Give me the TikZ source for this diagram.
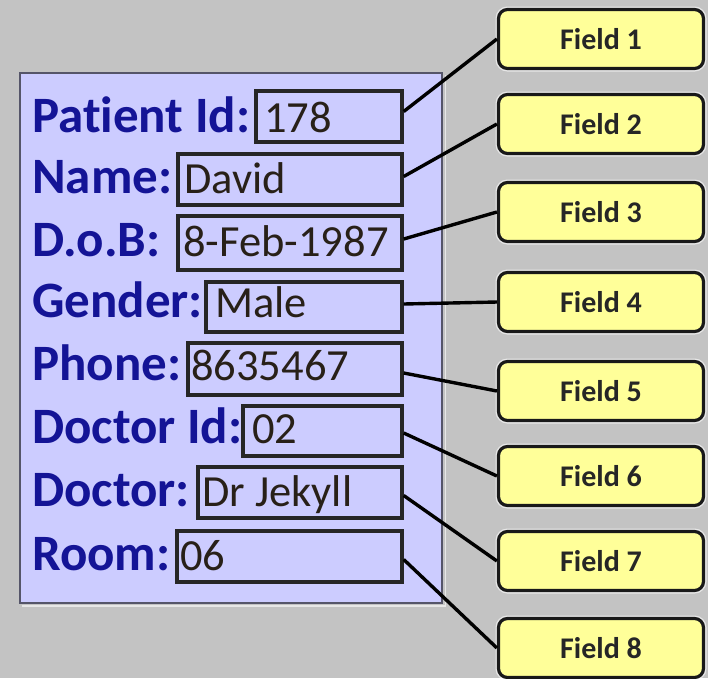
\documentclass[tikz,border=0pt]{standalone}
\usepackage{fontspec}
\setmainfont{Carlito}[Ligatures=CommonOff]
\usetikzlibrary{fit}
\definecolor{bggray}{RGB}{195,195,195}
\definecolor{panelfill}{RGB}{204,204,255}
\definecolor{panelline}{RGB}{85,85,105}
\definecolor{labelblue}{RGB}{20,20,150}
\definecolor{valtext}{RGB}{40,32,24}
\definecolor{fieldfill}{RGB}{255,255,153}
\tikzset{
  panel/.style={draw=panelline, line width=2pt, fill=panelfill, inner sep=0pt},
  vbox/.style={draw=black!85, line width=3.4pt, inner sep=0pt},
  lbl/.style={anchor=base west, inner sep=0pt, text=labelblue, font=\fontsize{51}{56}\selectfont\bfseries},
  vtxt/.style={anchor=base west, inner sep=0pt, text=valtext, font=\fontsize{44.5}{50}\selectfont},
  fbox/.style={draw=black!90, line width=3.2pt, fill=fieldfill, rounded corners=9pt,
    minimum width=205pt, minimum height=59pt, inner sep=0pt,
    font=\fontsize{30}{34}\selectfont\bfseries, text=black!85,
    preaction={draw=white, draw opacity=0.6, line width=6pt}},
  conn/.style={draw=black, line width=3.4pt}
}
\begin{document}
\begin{tikzpicture}[x=1pt,y=-1pt]
\fill[bggray] (0,0) rectangle (708,678);
\useasboundingbox (0,0) rectangle (708,678);
% panel
\node[panel, fit={(20,73)(442,603)}] (panel) {};
\draw[white, opacity=0.6, line width=1.2pt] (445.5,75) -- (445.5,606) -- (22,606);
% labels
\node[lbl] (l1) at (32,132) {Patient Id:};
\node[lbl] (l2) at (32,193) {Name:};
\node[lbl] (l3) at (32,256) {D.o.B:};
\node[lbl] (l4) at (32,317) {Gender:};
\node[lbl] (l5) at (32,380) {Phone:};
\node[lbl] (l6) at (32,443) {Doctor Id:};
\node[lbl] (l7) at (32,506) {Doctor:};
\node[lbl] (l8) at (32,570) {Room:};
% value boxes
\node[vbox, fit={(256,91)(402,142)}] (v1) {};
\node[vbox, fit={(178,154)(402,205)}] (v2) {};
\node[vbox, fit={(178,216)(402,270)}] (v3) {};
\node[vbox, fit={(206,282)(402,332)}] (v4) {};
\node[vbox, fit={(188,343)(402,395)}] (v5) {};
\node[vbox, fit={(243,406)(402,456)}] (v6) {};
\node[vbox, fit={(198,467)(402,518)}] (v7) {};
\node[vbox, fit={(177,531)(402,582)}] (v8) {};
% values
\node[vtxt] (t1) at (264,132) {178};
\node[vtxt] (t2) at (184,193) {David};
\node[vtxt] (t3) at (183,256) {8-Feb-1987};
\node[vtxt] (t4) at (215,317) {Male};
\node[vtxt] (t5) at (191,380) {8635467};
\node[vtxt] (t6) at (252,443) {02};
\node[vtxt] (t7) at (202,506) {Dr Jekyll};
\node[vtxt] (t8) at (180,570) {06};
% field boxes
\node[fbox] (f1) at (601,39) {Field 1};
\node[fbox] (f2) at (601,124) {Field 2};
\node[fbox] (f3) at (601,212) {Field 3};
\node[fbox] (f4) at (601,302) {Field 4};
\node[fbox] (f5) at (601,391) {Field 5};
\node[fbox] (f6) at (601,476) {Field 6};
\node[fbox] (f7) at (601,561) {Field 7};
\node[fbox] (f8) at (601,648) {Field 8};
% connectors
\draw[conn] ([yshift=5pt]v1.east) -- (f1.west);
\draw[conn] ([yshift=3pt]v2.east) -- (f2.west);
\draw[conn] ([yshift=4pt]v3.east) -- (f3.west);
\draw[conn] ([yshift=3pt]v4.east) -- (f4.west);
\draw[conn] ([yshift=-4pt]v5.east) -- (f5.west);
\draw[conn] ([yshift=-2pt]v6.east) -- (f6.west);
\draw[conn] ([yshift=-3pt]v7.east) -- (f7.west);
\draw[conn] ([yshift=-3pt]v8.east) -- (f8.west);
\end{tikzpicture}
\end{document}
